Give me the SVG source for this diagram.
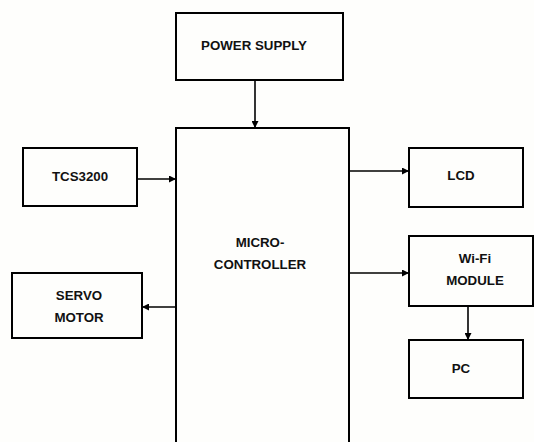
<svg xmlns="http://www.w3.org/2000/svg" width="534" height="442" viewBox="0 0 534 442">
<style>
.box{fill:none;stroke:#000;stroke-width:2}
.t{font-family:"Liberation Sans",Arial,sans-serif;font-weight:bold;font-size:13.3px;fill:#111;text-anchor:middle}
.c{stroke:#000;stroke-width:1.6;fill:none;marker-end:url(#ah)}
</style>
<defs>
<marker id="ah" viewBox="0 0 10 10" refX="10" refY="5" markerWidth="8" markerHeight="7" markerUnits="userSpaceOnUse" orient="auto">
<path d="M0,0L10,5L0,10z" fill="#000"/>
</marker>
</defs>
<rect width="534" height="442" fill="#fefefc"/>
<g id="power"><rect class="box" x="176" y="13" width="167" height="67"/><text class="t" x="254" y="50">POWER SUPPLY</text></g>
<g id="micro"><path class="box" d="M176,443V128H349V443"/><text class="t" x="260" y="247">MICRO-</text><text class="t" x="260" y="269">CONTROLLER</text></g>
<g id="tcs"><rect class="box" x="23" y="148" width="114" height="58"/><text class="t" x="80" y="181">TCS3200</text></g>
<g id="servo"><rect class="box" x="12" y="273" width="130" height="65"/><text class="t" x="79" y="300">SERVO</text><text class="t" x="79" y="322">MOTOR</text></g>
<g id="lcd"><rect class="box" x="409" y="148" width="114" height="59"/><text class="t" x="461" y="180">LCD</text></g>
<g id="wifi"><rect class="box" x="409" y="236" width="124" height="70"/><text class="t" x="475" y="263">Wi-Fi</text><text class="t" x="475" y="285">MODULE</text></g>
<g id="pc"><rect class="box" x="409" y="340" width="114" height="58"/><text class="t" x="461" y="373">PC</text></g>
<g id="connectors">
<path class="c" d="M255,80V128"/>
<path class="c" d="M137,179H176"/>
<path class="c" d="M176,307H142"/>
<path class="c" d="M349,171H409"/>
<path class="c" d="M349,273H409"/>
<path class="c" d="M468,306V340"/>
</g>
</svg>
